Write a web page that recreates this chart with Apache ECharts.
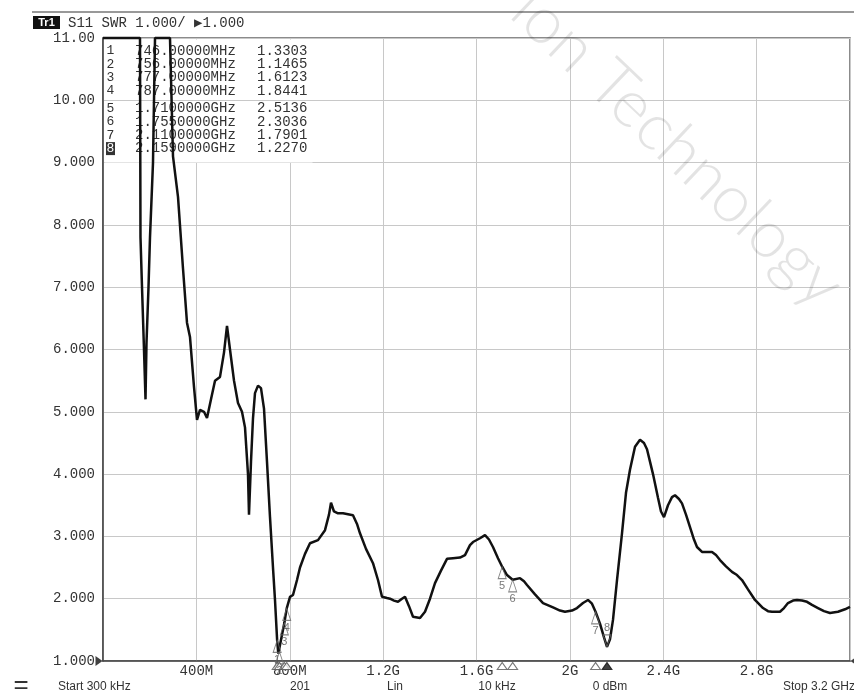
<!DOCTYPE html>
<html><head><meta charset="utf-8">
<script src="https://cdn.jsdelivr.net/npm/echarts@6/dist/echarts.min.js"></script>
<style>html,body{margin:0;padding:0;background:#fff}#c{width:854px;height:693px}</style>
</head><body><div id="c"></div>
<script>
// ---- data (frequency in GHz, SWR) ----
const traceFreqGHz = [0.000,0.1585,0.1606,0.1671,0.1756,0.1821,0.1863,0.1949,0.2013,0.2142,0.2228,0.2870,0.2999,0.3213,0.3427,0.3598,0.3727,0.3898,0.4027,0.4155,0.4327,0.4455,0.4627,0.4798,0.5012,0.5183,0.5312,0.5440,0.5612,0.5783,0.5954,0.6083,0.6211,0.6254,0.6340,0.6426,0.6511,0.6640,0.6768,0.6897,0.7025,0.7154,0.7282,0.7368,0.746,0.751,0.756,0.777,0.787,0.8011,0.8139,0.8311,0.8439,0.8653,0.8867,0.9210,0.9510,0.9681,0.9767,0.9895,1.0067,1.0281,1.0709,1.0881,1.1009,1.1266,1.1566,1.1780,1.1952,1.2166,1.2294,1.2466,1.2637,1.2808,1.2937,1.3108,1.3280,1.3580,1.3794,1.4008,1.4222,1.4479,1.4736,1.4993,1.5293,1.5507,1.5721,1.5850,1.6149,1.6364,1.6535,1.6706,1.6921,1.710,1.7306,1.755,1.7863,1.8035,1.8163,1.8506,1.8849,1.9277,1.9577,1.9791,2.0091,2.0305,2.0562,2.0776,2.0947,2.110,2.1290,2.1462,2.159,2.1719,2.1847,2.2019,2.2233,2.2404,2.2575,2.2790,2.3004,2.3175,2.3304,2.3432,2.3561,2.3775,2.3904,2.4032,2.4203,2.4375,2.4503,2.4674,2.4803,2.4974,2.5146,2.5317,2.5446,2.5660,2.6088,2.6260,2.6431,2.6688,2.6945,2.7159,2.7373,2.7630,2.7930,2.8273,2.8487,2.8658,2.9001,2.9172,2.9344,2.9558,2.9730,2.9944,3.0158,3.0372,3.0629,3.0886,3.1143,3.1486,3.1786,3.2000];
const traceSWR = [11,11,7.8,7.0,6.0,5.2,6.1,7.0,7.8,9.0,11,11,9.1,8.45,7.3,6.43,6.2,5.4,4.87,5.03,5.0,4.9,5.2,5.5,5.56,5.95,6.38,6.0,5.5,5.14,5.0,4.75,4.0,3.35,4.2,4.9,5.3,5.42,5.38,5.05,4.2,3.31,2.5,1.98,1.3303,1.12,1.1465,1.6123,1.8441,2.03,2.06,2.3,2.5,2.72,2.89,2.94,3.1,3.35,3.54,3.4,3.37,3.37,3.34,3.2,3.05,2.8,2.57,2.3,2.03,2.01,2.0,1.97,1.95,2.0,2.03,1.88,1.71,1.69,1.79,2.0,2.25,2.45,2.64,2.65,2.66,2.7,2.86,2.91,2.97,3.02,2.95,2.83,2.65,2.5136,2.38,2.3036,2.33,2.28,2.22,2.07,1.93,1.86,1.81,1.79,1.81,1.85,1.93,1.98,1.92,1.7901,1.6,1.38,1.227,1.35,1.66,2.3,3.05,3.7,4.07,4.44,4.55,4.5,4.4,4.2,4.0,3.62,3.4,3.31,3.5,3.63,3.66,3.6,3.53,3.35,3.15,2.95,2.83,2.75,2.75,2.7,2.62,2.52,2.43,2.38,2.3,2.15,1.98,1.85,1.8,1.79,1.79,1.85,1.93,1.97,1.98,1.97,1.95,1.9,1.85,1.8,1.77,1.79,1.83,1.87];
const markerNo = [1,2,3,4,5,6,7,8];
const markerFreqGHz = [0.746,0.756,0.777,0.787,1.71,1.755,2.11,2.159];
const markerSWR = [1.3303,1.1465,1.6123,1.8441,2.5136,2.3036,1.7901,1.2270];
const markerFreqText = ["746.00000MHz","756.00000MHz","777.00000MHz","787.00000MHz","1.7100000GHz","1.7550000GHz","2.1100000GHz","2.1590000GHz"];
const markerValText = ["1.3303","1.1465","1.6123","1.8441","2.5136","2.3036","1.7901","1.2270"];
const xTickLabels = ["","400M","800M","1.2G","1.6G","2G","2.4G","2.8G",""];
const yTickLabels = ["1.000","2.000","3.000","4.000","5.000","6.000","7.000","8.000","9.000","10.00","11.00"];
const headerText = "S11 SWR 1.000/ \u25B61.000";
const footerTexts = ["Start 300 kHz","201","Lin","10 kHz","0 dBm","Stop 3.2 GHz"];
const watermarkText = "ion Technology";

const MONO = '"Liberation Mono","DejaVu Sans Mono",monospace';
const SANS = '"Liberation Sans","DejaVu Sans",sans-serif';

const chart = echarts.init(document.getElementById('c'), null, {renderer:'canvas'});

const graphics = [];
// header
graphics.push({type:'line', shape:{x1:32,y1:12,x2:854,y2:12}, style:{stroke:'#777',lineWidth:1.5}, z:5});
graphics.push({type:'rect', shape:{x:33,y:16,width:27,height:13}, style:{fill:'#111'}, z:5});
graphics.push({type:'text', x:46.5, y:22.5, style:{text:'Tr1', fill:'#fff', font:'bold 11px '+SANS, textAlign:'center', textVerticalAlign:'middle'}, z:6});
graphics.push({type:'text', x:68, y:23, style:{text:headerText, fill:'#333', font:'14px '+MONO, textAlign:'left', textVerticalAlign:'middle'}, z:6});
// marker table background
graphics.push({type:'rect', shape:{x:104.5,y:39.5,width:208,height:123}, style:{fill:'#fff'}, z:1});
graphics.push({type:'line', shape:{x1:104,y1:100.5,x2:313,y2:100.5}, style:{stroke:'#c8c8c8',lineWidth:1}, z:1});
const rowY = markerNo.map((n,i)=> 51 + i*13.3 + (i>=4?4.5:0));
markerNo.forEach((n,i)=>{
  if (n===8) {
    graphics.push({type:'rect', shape:{x:106,y:rowY[i]-6.5,width:9,height:13}, style:{fill:'#333'}, z:4});
  }
  graphics.push({type:'text', x:110.5, y:rowY[i], style:{text:String(n), fill:n===8?'#fff':'#333', font:'13px '+MONO, textAlign:'center', textVerticalAlign:'middle'}, z:5});
  graphics.push({type:'text', x:135, y:rowY[i], style:{text:markerFreqText[i], fill:'#333', font:'14px '+MONO, textAlign:'left', textVerticalAlign:'middle'}, z:1});
  graphics.push({type:'text', x:257, y:rowY[i], style:{text:markerValText[i], fill:'#333', font:'14px '+MONO, textAlign:'left', textVerticalAlign:'middle'}, z:1});
});
// footer
graphics.push({type:'text', x:21, y:686, style:{text:'=', fill:'#333', font:'26px '+SANS, textAlign:'center', textVerticalAlign:'middle'}, z:5});
const footerX = [58, 300, 395, 497, 610, 783];
const footerAlign = ['left','center','center','center','center','left'];
footerTexts.forEach((t,i)=>{
  graphics.push({type:'text', x:footerX[i], y:687, style:{text:t, fill:'#333', font:'12px '+SANS, textAlign:footerAlign[i], textVerticalAlign:'middle'}, z:5});
});
// watermark
graphics.push({type:'text', x:522, y:0, rotation:-0.76, style:{text:watermarkText, fill:'rgba(0,0,0,0.11)', font:'300 66px Lato,"Open Sans",sans-serif', textAlign:'left', textVerticalAlign:'middle'}, z:10, silent:true});

const option = {
  animation:false,
  backgroundColor:'#fff',
  grid:{left:103, top:38, width:747, height:623, show:true, borderColor:'#666', borderWidth:1.5, backgroundColor:'transparent'},
  xAxis:{type:'value', min:0, max:3.2, interval:0.4,
    axisLine:{show:true, onZero:false, lineStyle:{color:'#444', width:1.5}},
    axisTick:{show:false},
    splitLine:{show:true, lineStyle:{color:'#c8c8c8', width:1}},
    axisLabel:{show:true, margin:3, color:'#333', fontFamily:MONO, fontSize:14,
      showMinLabel:false, showMaxLabel:false,
      formatter:(v)=> xTickLabels[Math.round(v/0.4)] || ''}
  },
  yAxis:{type:'value', min:1, max:11, interval:1,
    axisLine:{show:true, onZero:false, lineStyle:{color:'#444', width:1.5}},
    axisTick:{show:false},
    splitLine:{show:true, lineStyle:{color:'#c8c8c8', width:1}},
    axisLabel:{show:true, margin:8, color:'#333', fontFamily:MONO, fontSize:14,
      formatter:(v)=> yTickLabels[Math.round(v-1)] || ''}
  },
  graphic:{elements:graphics},
  series:[
    {name:'S11 SWR', type:'line', data:traceFreqGHz.map((f,i)=>[f, traceSWR[i]]),
      showSymbol:false, clip:false, z:3,
      lineStyle:{color:'#111', width:2.5}},
    {name:'markers', type:'scatter', clip:false, z:4,
      symbol:'triangle', symbolSize:[8,12], symbolOffset:[0,'50%'],
      itemStyle:{color:'rgba(255,255,255,0)', borderColor:'#666', borderWidth:1},
      label:{show:true, position:'bottom', distance:1, color:'#555', fontSize:11, fontFamily:SANS,
        formatter:(p)=> String(markerNo[p.dataIndex])},
      data:markerNo.map((n,i)=> n===8 ?
        {value:[markerFreqGHz[i], markerSWR[i]], symbolRotate:180, symbolOffset:[0,'-50%'], label:{position:'top'}} :
        {value:[markerFreqGHz[i], markerSWR[i]]})
    },
    {name:'marker ticks', type:'scatter', clip:false, z:4,
      symbol:'triangle', symbolSize:[10,7], symbolOffset:[0,5],
      itemStyle:{color:'#fff', borderColor:'#555', borderWidth:1},
      data:markerNo.map((n,i)=> n===8 ?
        {value:[markerFreqGHz[i], 1], itemStyle:{color:'#111', borderColor:'#111'}} :
        {value:[markerFreqGHz[i], 1]})
    },
    {name:'ref', type:'scatter', clip:false, z:5, symbol:'triangle', symbolSize:[10,7],
      itemStyle:{color:'#111'},
      data:[{value:[0,1], symbolRotate:-90, symbolOffset:[-4,0]},
            {value:[3.2,1], symbolRotate:90, symbolOffset:[4,0]}]
    }
  ]
};
chart.setOption(option);
</script>
</body></html>
